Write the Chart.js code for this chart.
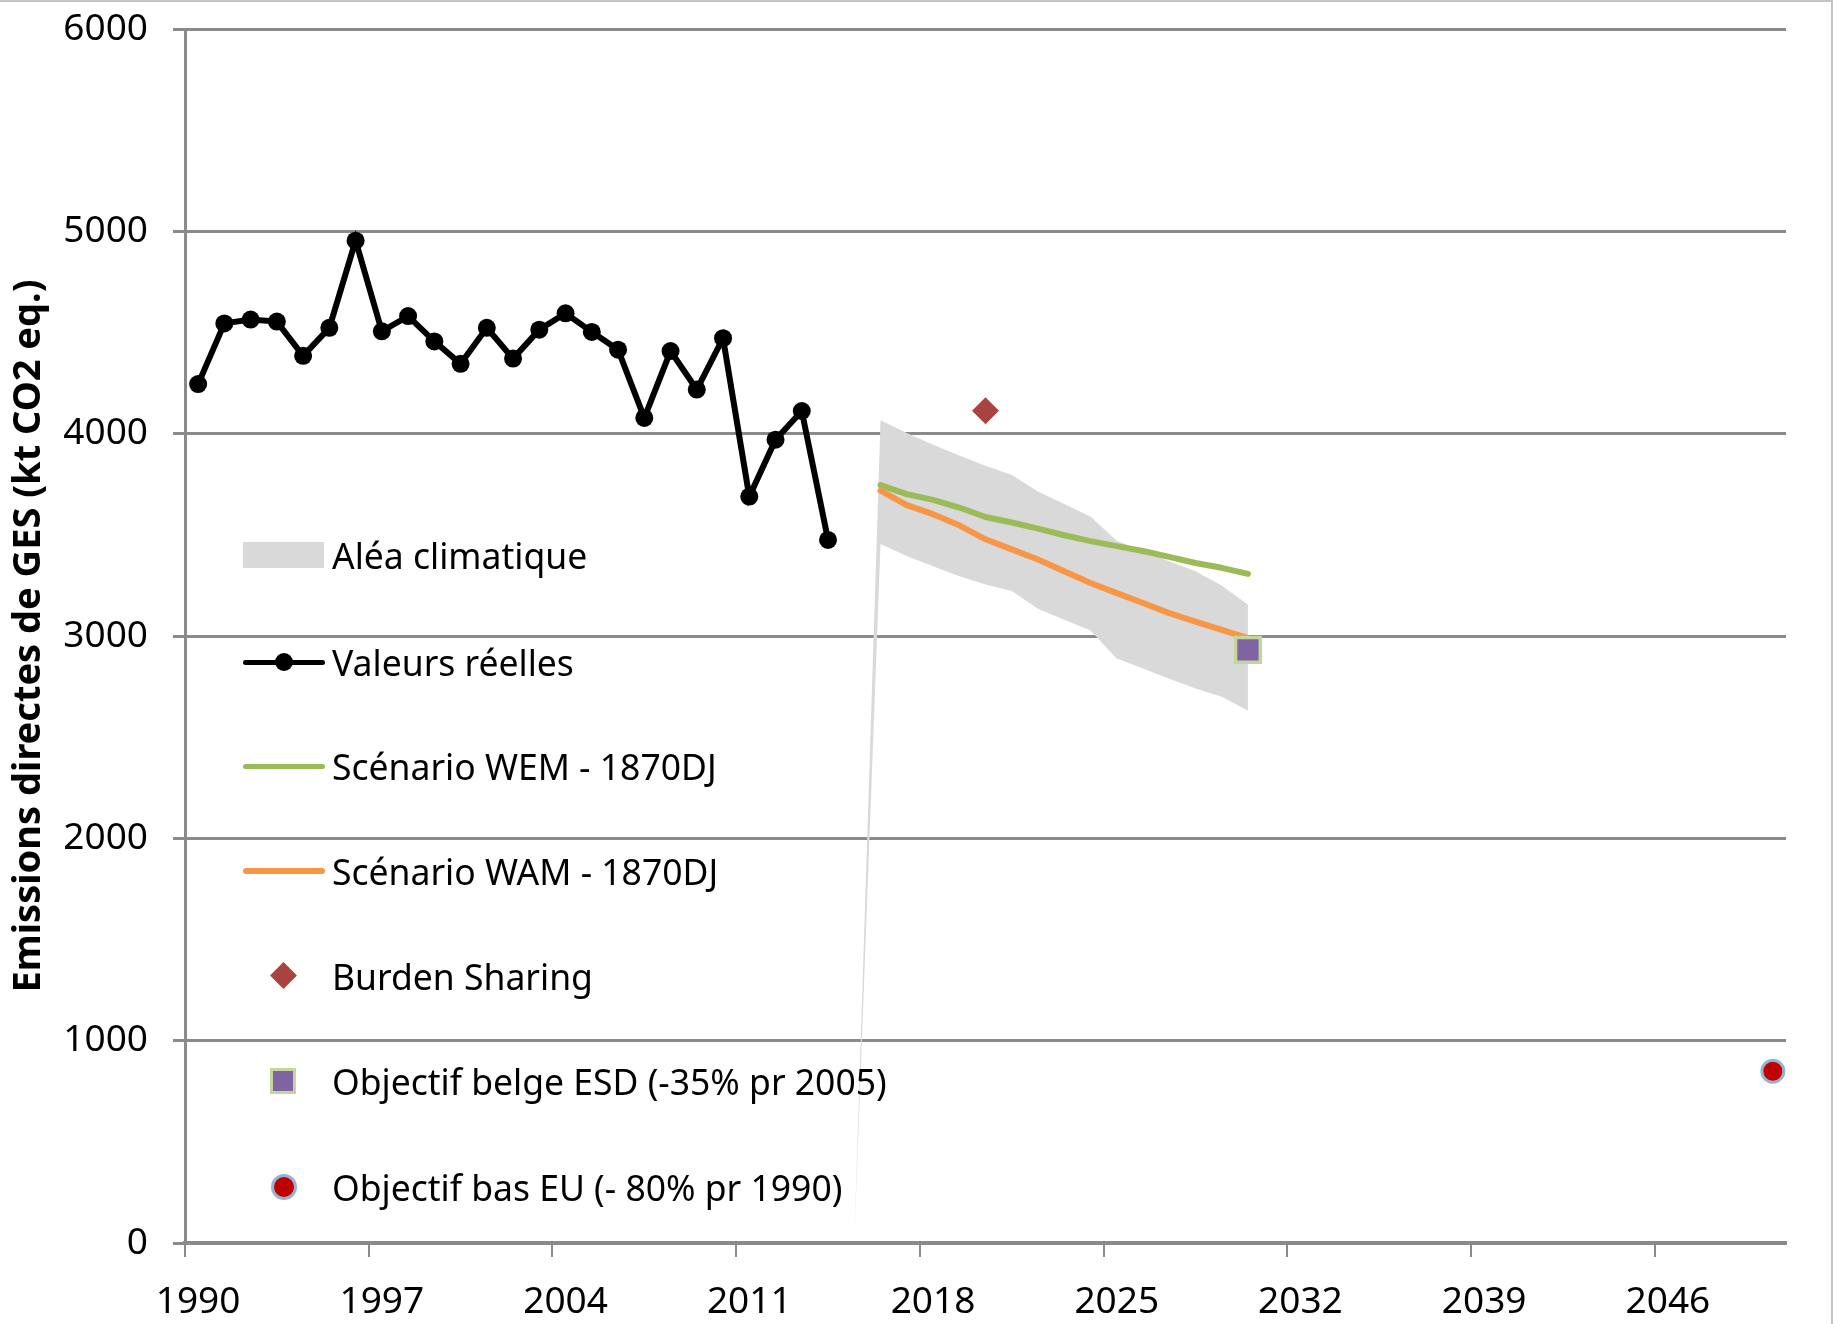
<!DOCTYPE html>
<html lang="fr">
<head>
<meta charset="utf-8">
<title>Emissions directes de GES</title>
<script src="https://cdn.jsdelivr.net/npm/chart.js@4.4.0/dist/chart.umd.min.js"></script>
<style>
  html, body { margin: 0; padding: 0; background: #fff; }
  #wrap { position: relative; width: 1833px; height: 1324px; overflow: hidden; }
  #wrap::after { content: ''; position: absolute; left: 0; top: 0; right: 0; bottom: 0;
    border-top: 2px solid #c4c4c4; border-right: 2px solid #c4c4c4; pointer-events: none; }
  canvas { position: absolute; left: 0; top: 0; }
  #legend { position: absolute; left: 0; top: 0; font-family: 'Noto Sans', sans-serif; font-size: 35.5px; color: #000; }
  .item { position: absolute; left: 243px; height: 60px; display: flex; align-items: center; white-space: nowrap; }
  .sym { position: relative; width: 82px; height: 60px; margin-right: 7px; }
</style>
</head>
<body>
<div id="wrap">
  <canvas id="chart" width="1833" height="1324"></canvas>
  <div id="legend"></div>
</div>
<script>
// categories: one per year, 1990 .. 2050
const firstYear = 1990;
const lastYear = 2050;
const years = [];
for (let y = firstYear; y <= lastYear; y++) years.push(String(y));

// historic emissions (kt CO2 eq.), 1990 .. 2014
const realStart = 1990;
const realValues = [4245, 4545, 4564, 4554, 4385, 4523, 4954, 4506, 4581, 4456,
                    4345, 4523, 4371, 4514, 4595, 4503, 4415, 4078, 4408, 4218,
                    4472, 3689, 3970, 4112, 3475];

// climate uncertainty band, 2015 .. 2030
const bandStart = 2015;
const bandLow  = [0, 3455, 3395, 3345, 3295, 3254, 3222, 3135, 3080, 3027, 2889, 2839, 2789, 2740, 2700, 2632];
const bandHigh = [0, 4066, 4003, 3945, 3892, 3842, 3796, 3714, 3652, 3590, 3471, 3420, 3370, 3320, 3250, 3155];

// scenarios, 2016 .. 2030
const scenStart = 2016;
const wemValues = [3746, 3701, 3673, 3635, 3588, 3561, 3531, 3498, 3469, 3444, 3420, 3391, 3361, 3337, 3307];
const wamValues = [3718, 3647, 3602, 3547, 3478, 3428, 3378, 3320, 3262, 3212, 3163, 3113, 3071, 3030, 2990];

// targets
const burdenYear = 2020, burdenValue = 4113;
const esdYear = 2030, esdValue = 2932;
const euYear = 2050, euValue = 849;

const yTicks = [0, 1000, 2000, 3000, 4000, 5000, 6000];
const labelEvery = 7;

const names = {
  band: 'Aléa climatique',
  real: 'Valeurs réelles',
  wem: 'Scénario WEM - 1870DJ',
  wam: 'Scénario WAM - 1870DJ',
  burden: 'Burden Sharing',
  esd: 'Objectif belge ESD (-35% pr 2005)',
  eu: 'Objectif bas EU (- 80% pr 1990)'
};

function pad(start, values) {
  const out = years.map(() => null);
  values.forEach((v, i) => { out[start - firstYear + i] = v; });
  return out;
}

const GRID = '#8a8a8a';

const datasets = [
  { label: 'bandLow', data: pad(bandStart, bandLow), borderWidth: 0, pointRadius: 0, fill: false, order: 10 },
  { label: names.band, data: pad(bandStart, bandHigh), borderWidth: 0, pointRadius: 0,
    backgroundColor: '#d9d9d9', fill: 0, order: 9 },
  { label: names.wem, data: pad(scenStart, wemValues), borderColor: '#9bbb59', borderWidth: 6,
    pointRadius: 0, borderCapStyle: 'round', borderJoinStyle: 'round', fill: false, order: 8 },
  { label: names.wam, data: pad(scenStart, wamValues), borderColor: '#f79646', borderWidth: 6,
    pointRadius: 0, borderCapStyle: 'round', borderJoinStyle: 'round', fill: false, order: 7 },
  { label: names.real, data: pad(realStart, realValues), borderColor: '#000', borderWidth: 6,
    pointRadius: 9, pointBackgroundColor: '#000', pointBorderWidth: 0, fill: false, order: 6 },
  { label: names.burden, data: pad(burdenYear, [burdenValue]), showLine: false, pointStyle: 'rectRot',
    pointRadius: 13.5, pointBackgroundColor: '#a9433f', pointBorderWidth: 0, order: 3 },
  { label: names.esd, data: pad(esdYear, [esdValue]), showLine: false, pointStyle: 'rect',
    pointRadius: 17.5, pointBackgroundColor: '#8064a2', pointBorderColor: '#c3d69b', pointBorderWidth: 3.5, order: 2 },
  { label: names.eu, data: pad(euYear, [euValue]), showLine: false, pointStyle: 'circle',
    pointRadius: 11, pointBackgroundColor: '#c00000', pointBorderColor: '#95b3d7', pointBorderWidth: 3, order: 1 }
];

const chart = new Chart(document.getElementById('chart'), {
  type: 'line',
  data: { labels: years, datasets: datasets },
  options: {
    responsive: false,
    animation: false,
    devicePixelRatio: 1,
    layout: { padding: { left: 0, top: 29, right: 47, bottom: 0 } },
    plugins: { legend: { display: false }, tooltip: { enabled: false } },
    elements: { line: { tension: 0 } },
    scales: {
      x: {
        type: 'category',
        offset: true,
        grid: {
          offset: true,
          drawOnChartArea: false,
          drawTicks: true,
          tickLength: 14,
          lineWidth: 2,
          color: (ctx) => (ctx.index % labelEvery === 0 ? GRID : 'rgba(0,0,0,0)')
        },
        border: { color: GRID, width: 4 },
        ticks: {
          autoSkip: false,
          maxRotation: 0,
          minRotation: 0,
          padding: 23,
          color: '#000',
          font: { family: 'Noto Sans', size: 37 },
          callback: (v, i) => (i % labelEvery === 0 ? years[i] : '')
        },
        afterFit: (scale) => { scale.height = 81; }
      },
      y: {
        min: 0,
        max: 6000,
        afterBuildTicks: (scale) => { scale.ticks = yTicks.map(v => ({ value: v })); },
        grid: { color: GRID, lineWidth: 3, drawTicks: true, tickLength: 12 },
        border: { color: GRID, width: 3 },
        ticks: {
          padding: 25,
          color: '#000',
          font: { family: 'Noto Sans', size: 37 },
          callback: (v) => String(v)
        },
        title: {
          display: true,
          text: 'Emissions directes de GES (kt CO2 eq.)',
          color: '#000',
          font: { family: 'Noto Sans', size: 38, weight: 'bold', lineHeight: 1.2 },
          padding: { top: 6, bottom: 0 }
        },
        afterFit: (scale) => {
          scale.width = 185;
          scale.paddingTop = 0;
          scale.paddingBottom = 0;
        }
      }
    }
  }
});

// legend inside the plot area, left side
const legendRows = [
  { name: names.band, y: 555, kind: 'box' },
  { name: names.real, y: 662, kind: 'line', color: '#000', width: 5, dot: true },
  { name: names.wem, y: 766, kind: 'line', color: '#9bbb59', width: 5 },
  { name: names.wam, y: 871, kind: 'line', color: '#f79646', width: 6 },
  { name: names.burden, y: 976, kind: 'diamond' },
  { name: names.esd, y: 1081, kind: 'square' },
  { name: names.eu, y: 1187, kind: 'circle' }
];

const legend = document.getElementById('legend');
legendRows.forEach((row) => {
  const item = document.createElement('div');
  item.className = 'item';
  item.style.top = (row.y - 30) + 'px';
  const sym = document.createElement('div');
  sym.className = 'sym';
  const s = document.createElement('div');
  s.style.position = 'absolute';
  if (row.kind === 'box') {
    Object.assign(s.style, { left: '0px', top: '17px', width: '81px', height: '26px', background: '#d9d9d9' });
    sym.appendChild(s);
  } else if (row.kind === 'line') {
    Object.assign(s.style, { left: '0px', top: (30 - row.width / 2) + 'px', width: '82px',
      height: row.width + 'px', background: row.color, borderRadius: '3px' });
    sym.appendChild(s);
    if (row.dot) {
      const d = document.createElement('div');
      Object.assign(d.style, { position: 'absolute', left: '32px', top: '21px', width: '18px', height: '18px',
        borderRadius: '50%', background: '#000' });
      sym.appendChild(d);
    }
  } else if (row.kind === 'diamond') {
    Object.assign(s.style, { left: '31px', top: '20px', width: '19px', height: '19px', background: '#a9433f',
      transform: 'rotate(45deg)' });
    sym.appendChild(s);
  } else if (row.kind === 'square') {
    Object.assign(s.style, { left: '27px', top: '17px', width: '20px', height: '20px', background: '#8064a2',
      border: '3px solid #c3d69b' });
    sym.appendChild(s);
  } else if (row.kind === 'circle') {
    Object.assign(s.style, { left: '28px', top: '17px', width: '20px', height: '20px', borderRadius: '50%',
      background: '#c00000', border: '3px solid #95b3d7' });
    sym.appendChild(s);
  }
  const t = document.createElement('span');
  t.textContent = row.name;
  item.appendChild(sym);
  item.appendChild(t);
  legend.appendChild(item);
});
</script>
</body>
</html>
